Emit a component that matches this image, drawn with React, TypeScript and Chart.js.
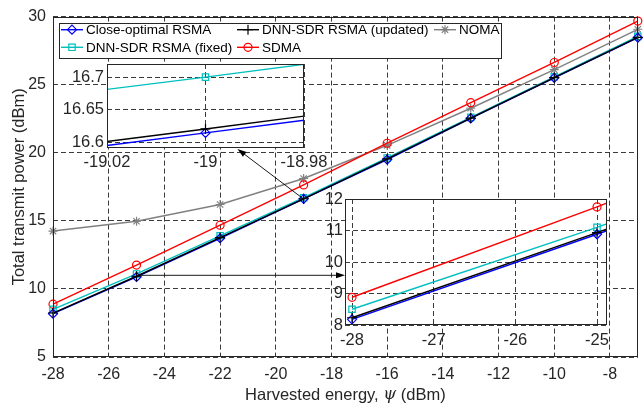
import React, { useEffect, useRef } from 'react';
import { Chart, registerables } from 'chart.js';
import { drawPoint } from 'chart.js/helpers';

Chart.register(...registerables);

// Harvested energy sweep (dBm) and total transmit power per scheme (dBm)
const energy = [-28, -25, -22, -19, -16, -13, -10, -7];
const closeOptimalRsma = [8.18, 10.88, 13.72, 16.615, 19.5, 22.52, 25.5, 28.45];
const dnnSdrUpdated = [8.23, 10.93, 13.77, 16.621, 19.55, 22.55, 25.52, 28.48];
const nomaPower = [14.25, 14.97, 16.2, 18.11, 20.55, 23.27, 26.1, 29.07];
const dnnSdrFixed = [8.5, 11.1, 13.9, 16.7, 19.62, 22.6, 25.58, 28.55];
const sdmaPower = [8.88, 11.75, 14.68, 17.64, 20.7, 23.68, 26.63, 29.67];

// Tick values for the main axes and the two magnified views
const mainXTicks = [-28, -26, -24, -22, -20, -18, -16, -14, -12, -10, -8];
const mainYTicks = [5, 10, 15, 20, 25, 30];
const zoomAXTicks = [-19.02, -19, -18.98];
const zoomAYTicks = [16.6, 16.65, 16.7];
const zoomBXTicks = [-28, -27, -26, -25];
const zoomBYTicks = [8, 9, 10, 11, 12];

const FONT = '"Liberation Sans", Arial, Helvetica, sans-serif';
const INK = '#262626';

const seriesStyles = [
  { label: 'Close-optimal RSMA', values: closeOptimalRsma, color: '#0000ff', point: 'rectRot', radius: 4.5, order: 1 },
  { label: 'DNN-SDR RSMA (updated)', values: dnnSdrUpdated, color: '#000000', point: 'cross', radius: 5, order: 0 },
  { label: 'NOMA', values: nomaPower, color: '#808080', point: 'star', radius: 4.5, order: 4 },
  { label: 'DNN-SDR RSMA (fixed)', values: dnnSdrFixed, color: '#00bfbf', point: 'rect', radius: 4.5, order: 2 },
  { label: 'SDMA', values: sdmaPower, color: '#ff0000', point: 'circle', radius: 4, order: 3 },
];

function makeDatasets(clip: any) {
  return seriesStyles.map((s) => ({
    label: s.label,
    data: energy.map((x, k) => ({ x, y: s.values[k] })),
    borderColor: s.color,
    backgroundColor: 'rgba(0,0,0,0)',
    pointBackgroundColor: 'rgba(0,0,0,0)',
    pointBorderColor: s.color,
    pointStyle: s.point,
    pointRadius: s.radius,
    pointBorderWidth: 1.2,
    borderWidth: 1.4,
    tension: 0,
    order: s.order,
    clip,
  }));
}

const fixedTicks = (values: number[]) => (scale: any) => {
  scale.ticks = values.map((v) => ({ value: v }));
};

// White axes background + solid frame around the plotting area
const framePlugin = {
  id: 'frame',
  beforeDraw(chart: any) {
    const { ctx, chartArea: a } = chart;
    ctx.save();
    ctx.fillStyle = '#ffffff';
    ctx.fillRect(a.left, a.top, a.right - a.left, a.bottom - a.top);
    ctx.restore();
  },
  afterDatasetsDraw(chart: any) {
    const { ctx, chartArea: a } = chart;
    ctx.save();
    ctx.strokeStyle = INK;
    ctx.lineWidth = 1;
    ctx.strokeRect(Math.round(a.left) + 0.5, Math.round(a.top) + 0.5, Math.round(a.right - a.left) - 1, Math.round(a.bottom - a.top) - 1);
    ctx.restore();
  },
};

function buildConfig(o: any) {
  const tickFont = { family: FONT, size: o.tickSize };
  return {
    type: 'line',
    data: { datasets: makeDatasets(o.clip) },
    options: {
      animation: false,
      responsive: false,
      maintainAspectRatio: false,
      events: [],
      layout: { padding: o.padding },
      plugins: { legend: { display: false }, tooltip: { enabled: false }, title: { display: false } },
      scales: {
        x: {
          type: 'linear',
          min: o.xMin,
          max: o.xMax,
          afterBuildTicks: fixedTicks(o.xTicks),
          afterFit: (s: any) => { s.height = o.xHeight; },
          grid: { color: 'rgba(38,38,38,0.9)', lineWidth: 1, drawTicks: false },
          border: { display: false, dash: [5, 3] },
          ticks: { font: tickFont, color: INK, padding: o.xPad, maxRotation: 0, autoSkip: false, callback: (v: number) => String(v) },
        },
        y: {
          type: 'linear',
          min: o.yMin,
          max: o.yMax,
          afterBuildTicks: fixedTicks(o.yTicks),
          afterFit: (s: any) => { s.width = o.yWidth; },
          grid: { color: 'rgba(38,38,38,0.9)', lineWidth: 1, drawTicks: false },
          border: { display: false, dash: [5, 3] },
          ticks: { font: tickFont, color: INK, padding: o.yPad, autoSkip: false, callback: (v: number) => String(v) },
        },
      },
    },
    plugins: [framePlugin, ...(o.plugins || [])],
  };
}

function drawArrow(ctx: CanvasRenderingContext2D, x0: number, y0: number, x1: number, y1: number) {
  const ang = Math.atan2(y1 - y0, x1 - x0);
  const len = 9;
  const half = 3;
  ctx.save();
  ctx.strokeStyle = '#000';
  ctx.fillStyle = '#000';
  ctx.lineWidth = 0.9;
  ctx.beginPath();
  ctx.moveTo(x0, y0);
  ctx.lineTo(x1 - Math.cos(ang) * len * 0.8, y1 - Math.sin(ang) * len * 0.8);
  ctx.stroke();
  ctx.beginPath();
  ctx.moveTo(x1, y1);
  ctx.lineTo(x1 - Math.cos(ang) * len - Math.sin(ang) * half, y1 - Math.sin(ang) * len + Math.cos(ang) * half);
  ctx.lineTo(x1 - Math.cos(ang) * len + Math.sin(ang) * half, y1 - Math.sin(ang) * len - Math.cos(ang) * half);
  ctx.closePath();
  ctx.fill();
  ctx.restore();
}

export default function App() {
  const mainRef = useRef<HTMLCanvasElement>(null);
  const zoomARef = useRef<HTMLCanvasElement>(null);
  const zoomBRef = useRef<HTMLCanvasElement>(null);

  useEffect(() => {
    const zoomA = new Chart(zoomARef.current as any, buildConfig({
      xMin: -19.02, xMax: -18.98, yMin: 16.592, yMax: 16.72,
      xTicks: zoomAXTicks, yTicks: zoomAYTicks,
      padding: { left: 57, right: 340, top: 64, bottom: 232 },
      yWidth: 50, xHeight: 25, xPad: 5, yPad: 3, tickSize: 16.5, clip: 0,
    }) as any);

    const zoomB = new Chart(zoomBRef.current as any, buildConfig({
      xMin: -28.086, xMax: -24.878, yMin: 8, yMax: 12,
      xTicks: zoomBXTicks, yTicks: zoomBYTicks,
      padding: { left: 305, right: 37, top: 199, bottom: 55 },
      yWidth: 40, xHeight: 25, xPad: 6, yPad: 2, tickSize: 16.5, clip: 0,
    }) as any);

    const legendPlugin = {
      id: 'schemeLegend',
      afterDraw(chart: any) {
        const ctx = chart.ctx as CanvasRenderingContext2D;
        const a = chart.chartArea;
        const box = { left: a.left + 6, top: a.top + 6.5, right: 501, bottom: 58 };
        const cols = [a.left + 8, 237, 434];
        const rows = [29.7, 47.3];
        ctx.save();
        ctx.fillStyle = '#fff';
        ctx.fillRect(box.left, box.top, box.right - box.left, box.bottom - box.top);
        ctx.strokeStyle = INK;
        ctx.lineWidth = 1;
        ctx.strokeRect(Math.round(box.left) + 0.5, Math.round(box.top) + 0.5, Math.round(box.right - box.left), Math.round(box.bottom - box.top));
        ctx.font = `13.5px ${FONT}`;
        ctx.textBaseline = 'middle';
        ctx.textAlign = 'left';
        seriesStyles.forEach((s, i) => {
          const x = cols[i % 3];
          const y = rows[Math.floor(i / 3)];
          ctx.strokeStyle = s.color;
          ctx.lineWidth = 1.4;
          ctx.beginPath();
          ctx.moveTo(x, y);
          ctx.lineTo(x + 22, y);
          ctx.stroke();
          ctx.fillStyle = 'rgba(0,0,0,0)';
          ctx.lineWidth = 1.2;
          drawPoint(ctx, { pointStyle: s.point, radius: s.radius, borderWidth: 1.2, rotation: 0 } as any, x + 11, y);
          ctx.fillStyle = '#000';
          ctx.fillText(s.label, x + 25, y + 0.5);
        });
        ctx.restore();
      },
    };

    const axisTitlePlugin = {
      id: 'axisTitles',
      afterDraw(chart: any) {
        const ctx = chart.ctx as CanvasRenderingContext2D;
        const a = chart.chartArea;
        ctx.save();
        ctx.fillStyle = INK;
        ctx.textBaseline = 'middle';
        // y title
        ctx.save();
        ctx.translate(19, (a.top + a.bottom) / 2);
        ctx.rotate(-Math.PI / 2);
        ctx.textAlign = 'center';
        ctx.font = `16.5px ${FONT}`;
        ctx.fillText('Total transmit power (dBm)', 0, 0);
        ctx.restore();
        // x title with italic psi
        const parts = [
          { t: 'Harvested energy, ', f: `16.5px ${FONT}` },
          { t: 'ψ', f: `italic 16.5px "DejaVu Serif", serif` },
          { t: ' (dBm)', f: `16.5px ${FONT}` },
        ];
        let total = 0;
        parts.forEach((p) => { ctx.font = p.f; total += ctx.measureText(p.t).width; });
        let x = (a.left + a.right) / 2 - total / 2;
        ctx.textAlign = 'left';
        parts.forEach((p) => { ctx.font = p.f; ctx.fillText(p.t, x, 395); x += ctx.measureText(p.t).width; });
        ctx.restore();
      },
    };

    const calloutPlugin = {
      id: 'callouts',
      afterDraw(chart: any) {
        const ctx = chart.ctx as CanvasRenderingContext2D;
        const xs = chart.scales.x;
        const ys = chart.scales.y;
        // magnified view around psi = -19 dBm
        const ax = xs.getPixelForValue(-19);
        const ay = ys.getPixelForValue(16.6);
        const tx = (zoomA as any).scales.x.getPixelForValue(-18.9935);
        const ty = (zoomA as any).chartArea.bottom + 1;
        drawArrow(ctx, ax, ay, tx, ty);
        // magnified view for psi in [-28, -25] dBm
        const bx = xs.getPixelForValue(-25);
        const by = ys.getPixelForValue(11.0);
        drawArrow(ctx, bx, by, (zoomB as any).chartArea.left, by);
      },
    };

    const main = new Chart(mainRef.current as any, buildConfig({
      xMin: -28, xMax: -7, yMin: 5, yMax: 30,
      xTicks: mainXTicks, yTicks: mainYTicks,
      padding: { left: 0, right: 3, top: 12, bottom: 0 },
      yWidth: 53, xHeight: 48, xPad: 8, yPad: 7, tickSize: 16, clip: false,
      plugins: [legendPlugin, axisTitlePlugin, calloutPlugin],
    }) as any);

    return () => {
      main.destroy();
      zoomA.destroy();
      zoomB.destroy();
    };
  }, []);

  const layer: React.CSSProperties = { position: 'absolute', left: 0, top: 0, width: 644, height: 405 };
  return (
    <div style={{ position: 'fixed', left: 0, top: 0, width: 644, height: 405, background: '#fff' }}>
      <canvas ref={mainRef} width={644} height={405} style={layer} />
      <canvas ref={zoomARef} width={644} height={405} style={layer} />
      <canvas ref={zoomBRef} width={644} height={405} style={layer} />
    </div>
  );
}
